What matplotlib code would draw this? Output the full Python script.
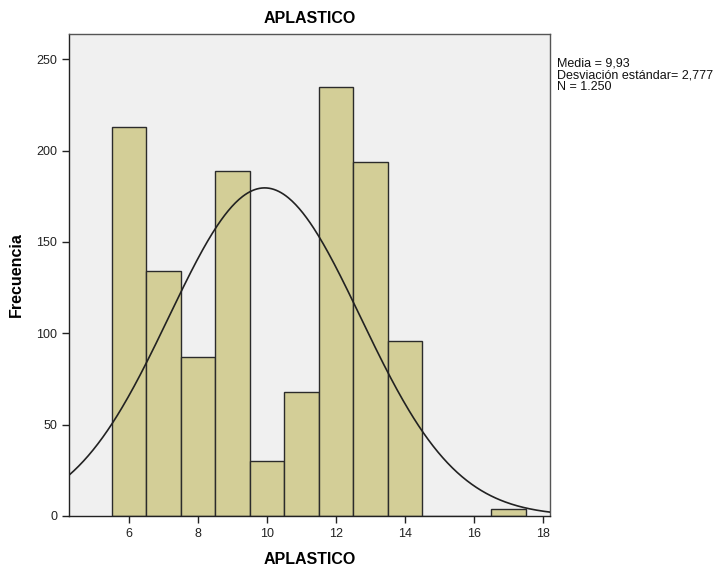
import numpy as np
import matplotlib
matplotlib.use("Agg")
import matplotlib.pyplot as plt

plt.rcParams['font.family'] = ['Liberation Sans', 'DejaVu Sans']

bin_centers = [6, 7, 8, 9, 10, 11, 12, 13, 14, 15, 16, 17]
counts = [213, 134, 87, 189, 30, 68, 235, 194, 96, 0, 0, 4]
mean_val = 9.93
sd_val = 2.777
n_val = 1250
x_ticks = [6, 8, 10, 12, 14, 16, 18]
y_ticks = [0, 50, 100, 150, 200, 250]

fig = plt.figure(figsize=(7.21, 5.71), dpi=100)
ax = fig.add_axes([69/721, 1-516/571, (550-69)/721, (516-34)/571])
ax.set_facecolor('#F0F0F0')

ax.bar(bin_centers, counts, width=1.0, color='#D3CE97', edgecolor='#2b2b2b',
       linewidth=1.0, zorder=2)

xs = np.linspace(4.26, 18.2, 400)
ys = n_val * 1.0 / (sd_val * np.sqrt(2 * np.pi)) * np.exp(-0.5 * ((xs - mean_val) / sd_val) ** 2)
ax.plot(xs, ys, color='#222222', linewidth=1.2, zorder=3)

ax.set_xlim(4.26, 18.2)
ax.set_ylim(0, 263.8)
ax.set_xticks(x_ticks)
ax.set_yticks(y_ticks)
ax.tick_params(direction='out', length=5, width=1, labelsize=9, colors='#222222')
for s in ax.spines.values():
    s.set_color('#555555')
    s.set_linewidth(1.0)
ax.spines['left'].set_color('#222222')
ax.spines['bottom'].set_color('#222222')

ax.set_title('APLASTICO', fontsize=11.5, fontweight='bold', pad=8)
ax.set_xlabel('APLASTICO', fontsize=11.5, fontweight='bold', labelpad=9)
ax.set_ylabel('Frecuencia', fontsize=11.5, fontweight='bold', labelpad=9)

fig.text(557/721, 1-58/571, 'Media = 9,93\nDesviación estándar= 2,777\nN = 1.250',
         fontsize=9, va='top', ha='left', linespacing=0.95, color='#111111')

fig.savefig('out.png', dpi=100)
